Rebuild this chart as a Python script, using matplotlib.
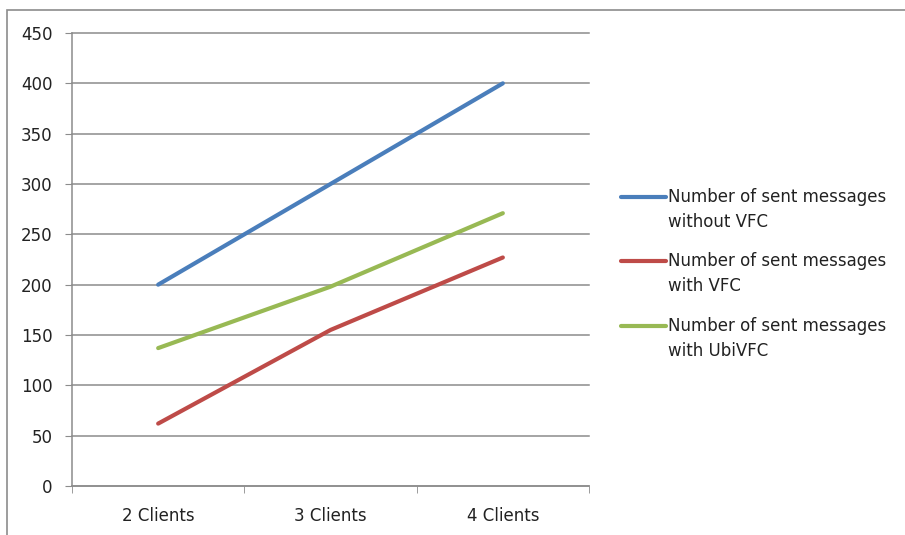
import matplotlib
matplotlib.use("Agg")
import matplotlib.pyplot as plt
from matplotlib.patches import Rectangle
from matplotlib.lines import Line2D

categories = ["2 Clients", "3 Clients", "4 Clients"]
without_vfc = [200, 300, 400]
with_vfc = [62, 155, 227]
with_ubivfc = [137, 198, 271]
series_labels = [
    "Number of sent messages\nwithout VFC",
    "Number of sent messages\nwith VFC",
    "Number of sent messages\nwith UbiVFC",
]
series_colors = ["#4a7ebb", "#be4b48", "#98b954"]
y_ticks = list(range(0, 451, 50))

plt.rcParams["font.family"] = ["DejaVu Sans"]
FS = 12
W, H = 905, 535

fig = plt.figure(figsize=(W / 100, H / 100), dpi=100)
ax = fig.add_axes([72 / W, 1 - 486 / H, (589 - 72) / W, (486 - 33) / H])

# outer chart frame
fig.patches.append(Rectangle((7 / W, -0.05), 1.1, 1 - 10 / H + 0.05,
                             transform=fig.transFigure, fill=False,
                             edgecolor="#8c8c8c", linewidth=1.2, clip_on=False))

x = list(range(len(categories)))
for vals, lab, col in zip([without_vfc, with_vfc, with_ubivfc], series_labels, series_colors):
    ax.plot(x, vals, color=col, linewidth=3, solid_capstyle="round", label=lab)

ax.set_xlim(-0.5, len(categories) - 0.5)
ax.set_ylim(0, 450)
ax.set_yticks(y_ticks)
ax.set_xticks(x)
ax.set_xticklabels(categories)
ax.set_xticks([i - 0.5 for i in range(len(categories) + 1)], minor=True)
ax.tick_params(axis="x", which="major", length=0, pad=15, labelsize=FS, colors="#222222")
ax.tick_params(axis="x", which="minor", length=5, color="#8c8c8c", direction="out")
ax.tick_params(axis="y", length=5, color="#8c8c8c", direction="out", pad=9, labelsize=FS,
               labelcolor="#222222")
ax.grid(axis="y", color="#8c8c8c", linewidth=1.1)
for gl in ax.get_ygridlines():
    gl.set_clip_on(False)
ax.set_axisbelow(True)
for s in ["top", "right"]:
    ax.spines[s].set_visible(False)
for s in ["left", "bottom"]:
    ax.spines[s].set_color("#8c8c8c")
    ax.spines[s].set_linewidth(1.1)

# legend: line sample beside the first line of each two-line label
entry_y = [197, 261, 326]
for lab, col, yp in zip(series_labels, series_colors, entry_y):
    fy = 1 - yp / H
    fig.add_artist(Line2D([621 / W, 666 / W], [fy, fy], transform=fig.transFigure,
                          color=col, linewidth=3, solid_capstyle="round"))
    first, second = lab.split("\n")
    fig.text(668 / W, fy, first, fontsize=FS, color="#222222", va="center", ha="left")
    fig.text(668 / W, 1 - (yp + 25) / H, second, fontsize=FS, color="#222222",
             va="center", ha="left")

fig.savefig("out.png", dpi=100)
